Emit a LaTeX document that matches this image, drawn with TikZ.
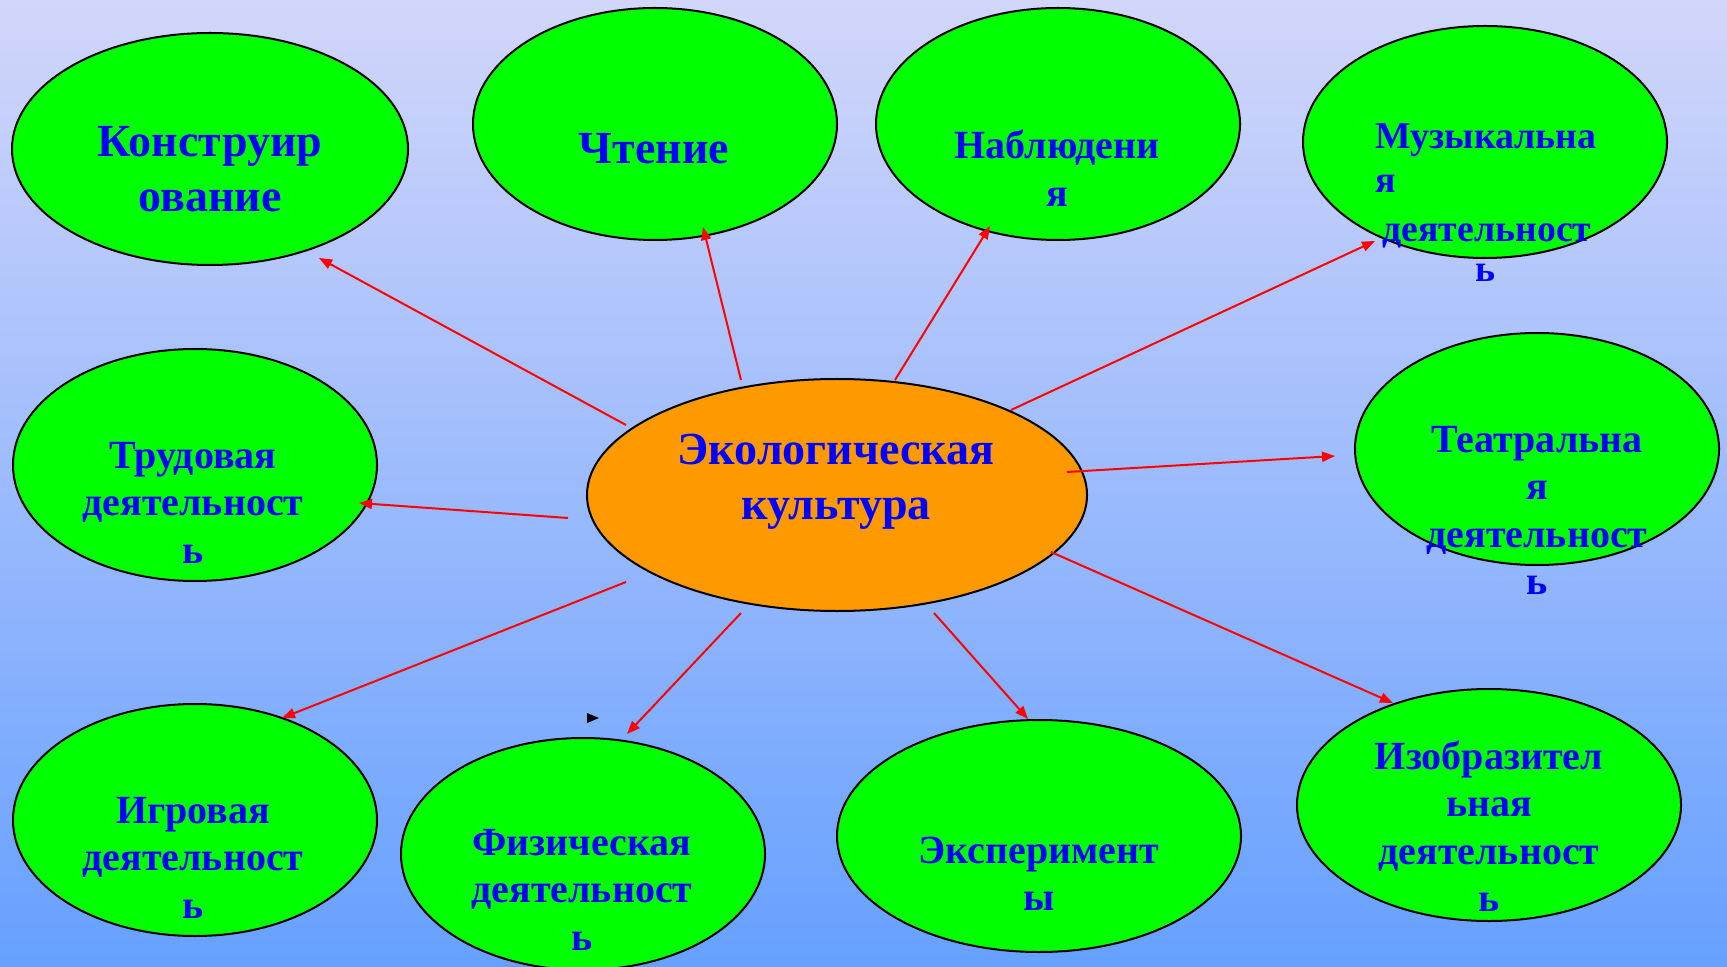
\documentclass[tikz,border=0pt]{standalone}
\usepackage{fontspec}
\setmainfont{Liberation Serif}
\usetikzlibrary{shapes.geometric,arrows.meta}
\definecolor{bgtop}{RGB}{210,214,250}
\definecolor{bgbot}{RGB}{102,160,255}
\definecolor{nodegreen}{RGB}{0,255,0}
\definecolor{ecoorange}{RGB}{255,153,0}
\definecolor{txtblue}{RGB}{0,0,255}
\definecolor{arrred}{RGB}{255,0,0}
\newcommand\mlines[1]{\vtop{\halign{\hfil##\hfil\cr#1\crcr}}}
\begin{document}
\begin{tikzpicture}[x=0.5pt,y=-0.5pt,
 oval/.style={ellipse, draw=black, line width=1pt, fill=nodegreen, inner sep=0pt},
 lbl/.style={text=txtblue, inner sep=0pt, anchor=base, font=\bfseries\fontsize{20}{23.75}\selectfont},
 biglbl/.style={lbl, font=\bfseries\fontsize{23}{27.3}\selectfont},
 muslbl/.style={text=txtblue, inner sep=0pt, anchor=base west, font=\bfseries\fontsize{18.9}{22}\selectfont},
 link/.style={draw=arrred, line width=1pt, -{Triangle[length=6.5pt,width=5pt]}}]
\useasboundingbox (0,0) rectangle (1727,967);
\clip (0,0) rectangle (1727,967);
\fill[top color=bgtop, bottom color=bgbot] (0,0) rectangle (1727,967);
% ellipses
\node[oval, minimum width=198pt, minimum height=116pt] (kon) at (210,149) {};
\node[oval, minimum width=182pt, minimum height=116pt] (cht) at (655,124) {};
\node[oval, minimum width=182pt, minimum height=116pt] (nab) at (1058,124) {};
\node[oval, minimum width=182pt, minimum height=116pt] (mus) at (1485,142) {};
\node[oval, minimum width=182pt, minimum height=116pt] (tea) at (1537,449) {};
\node[oval, minimum width=182pt, minimum height=116pt] (tru) at (195,465) {};
\node[oval, fill=ecoorange, minimum width=250pt, minimum height=116pt] (eco) at (837,495) {};
\node[oval, minimum width=182pt, minimum height=116pt] (igr) at (195,820) {};
\node[oval, minimum width=182pt, minimum height=116pt] (fiz) at (583,854) {};
\node[oval, minimum width=202pt, minimum height=116pt] (eks) at (1039,836) {};
\node[oval, minimum width=192pt, minimum height=116pt] (izo) at (1489,805) {};
% connector ends
\coordinate (s1) at (626,425); \coordinate (e1) at (319,258);
\coordinate (s2) at (741,380); \coordinate (e2) at (703,227);
\coordinate (s3) at (895,380); \coordinate (e3) at (990,226);
\coordinate (s4) at (1011,410); \coordinate (e4) at (1375,241);
\coordinate (s5) at (1067,472); \coordinate (e5) at (1335,456);
\coordinate (s6) at (568,518); \coordinate (e6) at (359,503);
\coordinate (s7) at (626,582); \coordinate (e7) at (282,718);
\coordinate (s8) at (741,613); \coordinate (e8) at (627,734);
\coordinate (s9) at (934,613); \coordinate (e9) at (1028,719);
\coordinate (s10) at (1051,552); \coordinate (e10) at (1393,703);
\foreach \i in {1,...,10} {\draw[link] (s\i) -- (e\i);}
% stray arrowhead
\fill[black] (587,713) -- (599,718) -- (587,723) -- cycle;
% labels
\node[biglbl] (tkon) at (210,157) {\mlines{Конструир\cr ование}};
\node[biglbl] (tcht) at (654,164) {Чтение};
\node[lbl] (tnab) at (1057,159) {\mlines{Наблюдени\cr я}};
\node[muslbl] (tmus1) at (1375,149) {Музыкальна};
\node[muslbl] (tmus2) at (1375,193) {я};
\node[muslbl] (tmus3) at (1382,242) {деятельност};
\node[muslbl, anchor=base] (tmus4) at (1485,282) {ь};
\node[lbl] (ttea) at (1537,452) {\mlines{Театральна\cr я\cr деятельност\cr ь}};
\node[lbl] (ttru) at (193,468) {\mlines{Трудовая\cr деятельност\cr ь}};
\node[biglbl] (teco) at (836,465) {\mlines{Экологическая\cr культура}};
\node[lbl] (tigr) at (193,823) {\mlines{Игровая\cr деятельност\cr ь}};
\node[lbl] (tfiz) at (582,855) {\mlines{Физическая\cr деятельност\cr ь}};
\node[lbl] (teks) at (1039,863) {\mlines{Эксперимент\cr ы}};
\node[lbl] (tizo) at (1489,769) {\mlines{Изобразител\cr ьная\cr деятельност\cr ь}};
\end{tikzpicture}
\end{document}
